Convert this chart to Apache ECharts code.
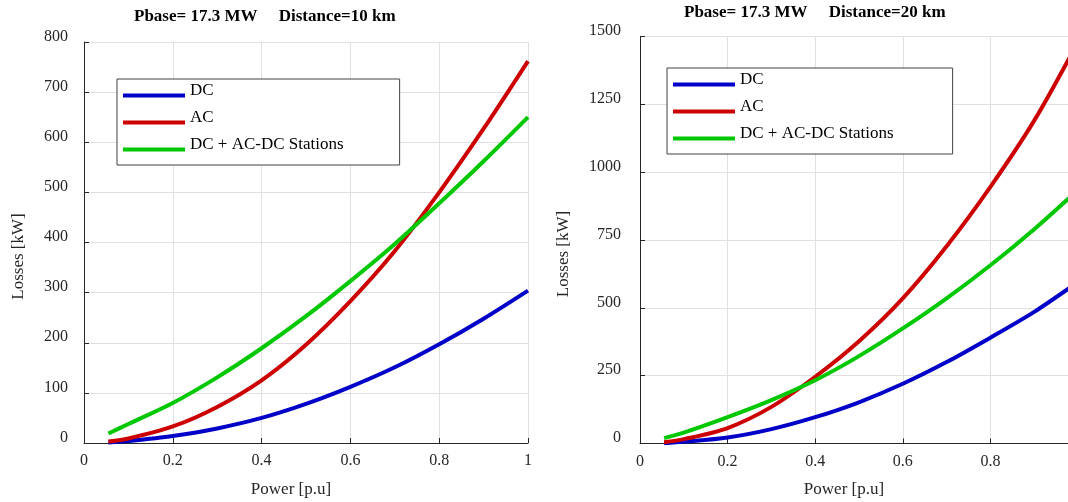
<!DOCTYPE html>
<html>
<head>
<meta charset="utf-8">
<script src="https://cdn.jsdelivr.net/npm/echarts@6/dist/echarts.min.js"></script>
<style>html,body{margin:0;padding:0;background:#fff;}#c{width:1068px;height:502px;}</style>
</head>
<body>
<div id="c"></div>
<script>
// Power [p.u] sample points
const powerPU = [0.055, 0.1, 0.2, 0.3, 0.4, 0.5, 0.6, 0.7, 0.8, 0.9, 1.0];
// Distance = 10 km
const dc10 = [1, 4, 14, 29, 50, 78, 112, 151, 197, 248, 304];
const ac10 = [3, 9, 33, 72, 125, 196, 283, 383, 500, 627, 762];
const st10 = [19, 38, 80, 131, 189, 253, 323, 397, 478, 562, 650];
// Distance = 20 km
const dc20 = [1, 6, 22, 53, 97, 152, 220, 300, 390, 485, 595];
const ac20 = [5, 16, 57, 135, 246, 377, 535, 727, 946, 1190, 1480];
const st20 = [20, 40, 97, 160, 233, 322, 424, 535, 657, 790, 935];

const seriesNames = ['DC', 'AC', 'DC + AC-DC Stations'];
const colors = ['#0000c8', '#cc0000', '#00c800'];
const titles = ['Pbase= 17.3 MW     Distance=10 km', 'Pbase= 17.3 MW     Distance=20 km'];
const xName = 'Power [p.u]';
const yName = 'Losses [kW]';

const FONT = 'Liberation Serif';
const pair = (xs, ys) => xs.map((x, i) => [x, ys[i]]);

function xAxisCfg(gi) {
  return {
    type: 'value', gridIndex: gi, min: 0, max: 1, interval: 0.2,
    name: xName, nameLocation: 'middle', nameGap: 38,
    nameTextStyle: { fontFamily: FONT, fontSize: 17, color: '#262626', padding: [0, 30, 0, 0] },
    axisLine: { show: true, onZero: false, lineStyle: { color: '#262626', width: 1 } },
    axisTick: { show: true, inside: true, length: 5, lineStyle: { color: '#262626' } },
    axisLabel: { fontFamily: FONT, fontSize: 16, color: '#262626', margin: 10,
      formatter: v => String(v), hideOverlap: false, showMinLabel: true, showMaxLabel: true },
    splitLine: { show: true, lineStyle: { color: '#e0e0e0', width: 1 } }
  };
}
function yAxisCfg(gi, max, interval, gap, margin) {
  return {
    type: 'value', gridIndex: gi, min: 0, max: max, interval: interval,
    name: yName, nameLocation: 'middle', nameGap: gap,
    nameTextStyle: { fontFamily: FONT, fontSize: 17, color: '#262626', padding: [0, 28, 0, 0] },
    axisLine: { show: true, onZero: false, lineStyle: { color: '#262626', width: 1 } },
    axisTick: { show: true, inside: true, length: 5, lineStyle: { color: '#262626' } },
    axisLabel: { fontFamily: FONT, fontSize: 16, color: '#262626', margin: margin,
      verticalAlign: 'bottom', lineHeight: 11,
      formatter: v => String(v), hideOverlap: false, showMinLabel: true, showMaxLabel: true },
    splitLine: { show: true, lineStyle: { color: '#e0e0e0', width: 1 } }
  };
}
function lineSeries(name, color, gi, data) {
  return {
    type: 'line', name: name, xAxisIndex: gi, yAxisIndex: gi,
    data: data, smooth: 0.3, showSymbol: false, symbol: 'none',
    lineStyle: { color: color, width: 4 }, itemStyle: { color: color },
    emphasis: { disabled: true }, z: 3
  };
}
function legendCfg(left, top, pad) {
  return {
    orient: 'vertical', left: left, top: top, data: seriesNames,
    icon: 'rect', itemWidth: 62, itemHeight: 4, itemGap: 10,
    padding: pad, backgroundColor: '#fff', borderColor: '#404040', borderWidth: 1,
    selectedMode: false,
    formatter: '{t|{name}}',
    textStyle: { fontFamily: FONT, fontSize: 17, color: '#000',
      rich: { t: { fontFamily: FONT, fontSize: 17, color: '#000', padding: [0, 0, 10, 0] } } }
  };
}

const option = {
  animation: false,
  backgroundColor: '#fff',
  title: [
    { text: titles[0], left: 134, top: 8, padding: 0,
      textStyle: { fontFamily: FONT, fontSize: 17, fontWeight: 'bold', color: '#000' } },
    { text: titles[1], left: 684, top: 4, padding: 0,
      textStyle: { fontFamily: FONT, fontSize: 17, fontWeight: 'bold', color: '#000' } }
  ],
  legend: [
    legendCfg(117, 79, [3, 56, 12, 6]),
    legendCfg(667, 68, [3, 59, 12, 6])
  ],
  grid: [
    { left: 84, top: 42, width: 444, height: 401, containLabel: false, outerBoundsMode: 'none' },
    { left: 640, top: 36.5, width: 438, height: 407, containLabel: false, outerBoundsMode: 'none' }
  ],
  xAxis: [xAxisCfg(0), xAxisCfg(1)],
  yAxis: [yAxisCfg(0, 800, 100, 57, 16), yAxisCfg(1, 1500, 250, 68, 19)],
  series: [
    lineSeries(seriesNames[0], colors[0], 0, pair(powerPU, dc10)),
    lineSeries(seriesNames[1], colors[1], 0, pair(powerPU, ac10)),
    lineSeries(seriesNames[2], colors[2], 0, pair(powerPU, st10)),
    lineSeries(seriesNames[0], colors[0], 1, pair(powerPU, dc20)),
    lineSeries(seriesNames[1], colors[1], 1, pair(powerPU, ac20)),
    lineSeries(seriesNames[2], colors[2], 1, pair(powerPU, st20))
  ]
};
const chart = echarts.init(document.getElementById('c'), null, { renderer: 'canvas' });
chart.setOption(option);
</script>
</body>
</html>
